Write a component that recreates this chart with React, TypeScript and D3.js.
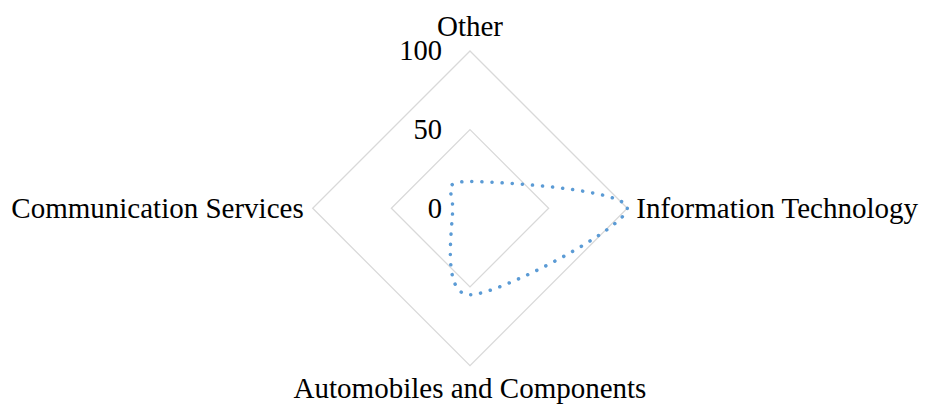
import { useRef, useEffect } from 'react';
import * as d3 from 'd3';

const categories = ['Other', 'Information Technology', 'Automobiles and Components', 'Communication Services'];
const values = [17, 100, 55, 11];
const tickValues = [0, 50, 100];

const width = 925;
const height = 404;

const App = () => {
  const ref = useRef<SVGSVGElement>(null);

  useEffect(() => {
    document.body.style.margin = '0';
    const cx = 470;
    const cy = 208.3;
    const radius = 157.3;
    const font = '"Liberation Serif", "Times New Roman", serif';

    const svg = d3.select(ref.current);
    svg.selectAll('*').remove();

    const r = d3.scaleLinear().domain([0, 100]).range([0, radius]);
    const angle = (i: number) => (i * 2 * Math.PI) / categories.length;

    const g = svg.append('g').attr('transform', `translate(${cx},${cy})`);

    // rings
    const ring = d3.lineRadial<number>()
      .angle((d, i) => angle(i))
      .radius(d => r(d))
      .curve(d3.curveLinearClosed);

    g.selectAll('path.ring')
      .data(tickValues.filter(t => t > 0))
      .enter().append('path')
      .attr('class', 'ring')
      .attr('d', t => ring(categories.map(() => t)))
      .attr('fill', 'none')
      .attr('stroke', '#d9d9d9')
      .attr('stroke-width', 1.3);

    // tick labels
    g.selectAll('text.tick')
      .data(tickValues)
      .enter().append('text')
      .attr('class', 'tick')
      .attr('x', -28)
      .attr('y', t => -r(t))
      .attr('dy', '0.33em')
      .attr('text-anchor', 'end')
      .attr('font-family', font)
      .attr('font-size', 28.5)
      .attr('fill', '#000')
      .text(t => t);

    // category labels
    const anchors = ['middle', 'start', 'middle', 'end'];
    g.selectAll('text.cat')
      .data(categories)
      .enter().append('text')
      .attr('class', 'cat')
      .attr('x', (d, i) => Math.sin(angle(i)) * (radius + 9))
      .attr('y', (d, i) => -Math.cos(angle(i)) * radius)
      .attr('dy', (d, i) => (i === 0 ? -14.7 : i === 2 ? 32.4 : 9.7))
      .attr('text-anchor', (d, i) => anchors[i])
      .attr('font-family', font)
      .attr('font-size', 29)
      .attr('fill', '#000')
      .text(d => d);

    // series
    const line = d3.lineRadial<number>()
      .angle((d, i) => angle(i))
      .radius(d => r(d))
      .curve(d3.curveCardinalClosed.tension(0));

    g.append('path')
      .attr('d', line(values))
      .attr('fill', 'none')
      .attr('stroke', '#5b9bd5')
      .attr('stroke-width', 3.5)
      .attr('stroke-linecap', 'round')
      .attr('stroke-dasharray', '0.1 10');
  }, []);

  return <svg ref={ref} width={width} height={height} style={{ display: 'block' }}></svg>;
};

export default App;
